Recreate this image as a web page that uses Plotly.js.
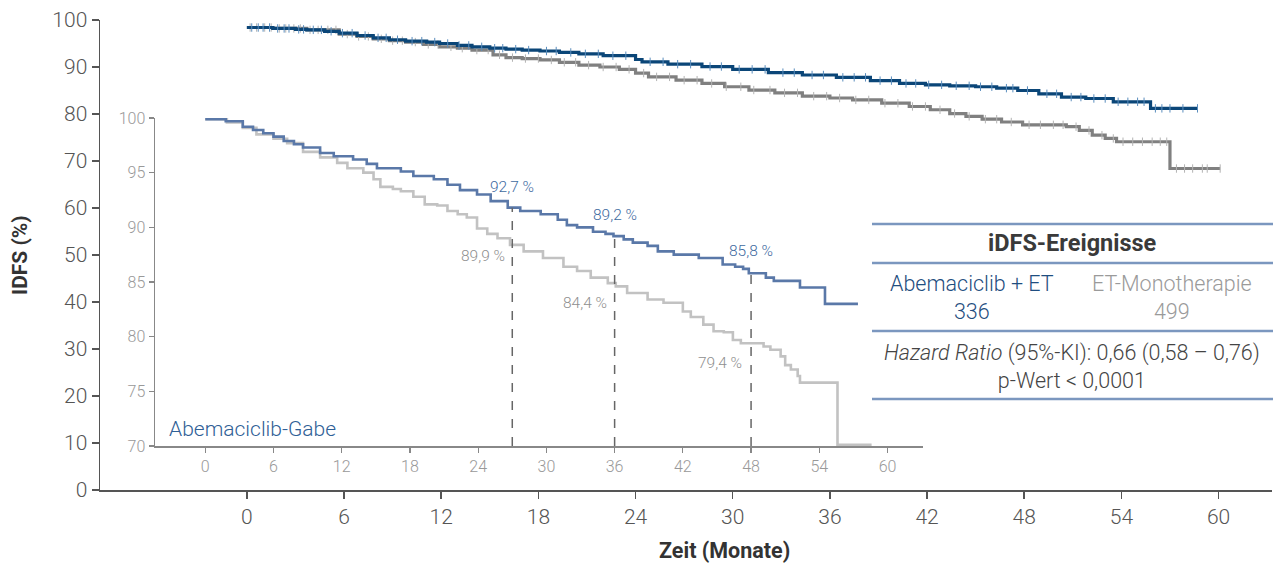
<!DOCTYPE html>
<html>
<head>
<meta charset="utf-8">
<script src="https://cdn.plot.ly/plotly-3.0.1.min.js"></script>
<style>html,body{margin:0;padding:0;background:#fff;}#chart{width:1274px;height:565px;}</style>
</head>
<body>
<div id="chart"></div>
<script>
// ---- Main chart data (months, IDFS %) ----
const mainAbeTime = [0, 1.6, 3.0, 3.7, 4.8, 5.7, 6.8, 7.8, 8.8, 9.8, 11.1, 11.9, 13.0, 13.9, 15.0, 16.0, 17.0, 18.1, 19.3, 20.5, 22.0, 24.0, 24.4, 26.0, 28.1, 30.0, 32.2, 34.3, 36.4, 38.5, 40.3, 41.9, 43.4, 45.0, 46.3, 47.6, 48.9, 50.3, 51.8, 53.5, 55.8, 58.7];
const mainAbeSurv = [98.4, 98.2, 98.0, 97.9, 97.6, 97.2, 96.7, 96.2, 95.8, 95.5, 95.3, 95.0, 94.6, 94.3, 94.0, 93.8, 93.6, 93.4, 93.1, 92.8, 92.4, 91.6, 91.1, 90.6, 90.1, 89.5, 88.8, 88.3, 87.8, 87.1, 86.5, 86.2, 86.0, 85.8, 85.5, 85.0, 84.3, 83.6, 83.3, 82.6, 81.2, 81.2];
const mainEtTime = [0, 1.6, 3.7, 5.7, 6.8, 7.8, 8.8, 9.8, 10.9, 11.9, 13.0, 13.9, 15.2, 16.0, 17.0, 18.1, 19.3, 20.5, 21.8, 23.0, 24.0, 24.8, 26.5, 28.1, 29.5, 31.0, 32.6, 34.3, 36.0, 37.4, 39.2, 40.9, 42.2, 43.4, 44.4, 45.4, 46.6, 47.9, 50.6, 51.4, 52.2, 53.0, 53.7, 57.0, 60.1];
const mainEtSurv = [98.4, 98.2, 97.9, 97.0, 96.5, 96.0, 95.6, 95.3, 94.8, 94.3, 94.0, 93.6, 92.6, 92.0, 91.8, 91.5, 91.0, 90.4, 90.0, 89.5, 88.7, 87.9, 87.2, 86.5, 85.8, 85.1, 84.5, 83.8, 83.4, 83.0, 82.3, 81.6, 80.9, 80.1, 79.5, 78.9, 78.3, 77.7, 77.3, 76.5, 75.5, 74.8, 74.1, 68.4, 68.4];
const mainAbeCensor = [0.3,0.7,1.0,1.4,1.9,2.3,2.6,3.2,3.5,4.1,4.6,5.2,5.9,6.5,7.3,8.1,8.6,9.3,10.2,10.8,11.6,12.4,13.1,13.7,14.5,15.3,15.8,16.6,17.4,18.5,19.1,20.0,20.9,21.7,22.6,23.4,24.9,25.7,26.6,27.4,28.6,29.3,30.4,31.2,32.0,33.1,33.8,34.9,35.6,36.8,37.5,38.2,39.1,39.8,40.7,41.3,42.1,42.9,43.8,44.6,45.3,46.0,46.9,47.3,48.2,49.4,50.0,50.9,51.5,52.3,53.0,53.8,54.4,55.0,55.4,56.1,56.5,57.0,57.8,58.7];
const mainEtCensor = [0.2,0.6,1.1,1.5,2.0,2.4,2.9,3.3,3.9,4.4,5.0,5.5,6.2,6.9,7.5,8.3,9.0,9.6,10.4,11.2,11.8,12.6,13.3,14.2,14.9,15.6,16.4,17.2,18.0,18.8,19.6,20.3,21.1,22.0,22.8,23.6,24.5,25.3,26.1,27.0,27.8,28.7,29.6,30.5,31.3,32.3,33.2,34.0,35.0,35.8,36.6,37.6,38.4,39.4,40.2,41.1,41.9,42.8,43.7,44.6,45.6,46.3,47.2,48.3,49.0,49.8,50.4,51.2,52.0,52.8,53.5,54.1,54.7,55.3,55.9,56.4,56.8,57.4,57.9,58.4,59.0,59.3,60.1];

// ---- Inset data (Abemaciclib-Gabe) ----
const insetAbeTime = [0, 1.8, 3.3, 4.2, 5.1, 6.0, 6.9, 7.8, 8.6, 10.1, 11.3, 13.0, 14.2, 15.1, 17.2, 18.3, 20.1, 21.3, 22.4, 23.9, 25.1, 26.6, 27.7, 29.5, 31.0, 31.8, 32.7, 34.1, 35.2, 35.9, 36.8, 37.6, 38.9, 39.8, 41.2, 43.4, 45.5, 46.6, 47.3, 47.8, 49.3, 50.0, 52.3, 54.5, 57.4];
const insetAbeSurv = [99.9, 99.7, 99.2, 98.9, 98.6, 98.3, 97.9, 97.6, 97.3, 96.8, 96.5, 96.2, 95.8, 95.4, 95.1, 94.7, 94.4, 93.9, 93.4, 93.0, 92.4, 91.8, 91.5, 91.2, 90.7, 90.2, 90.0, 89.6, 89.4, 89.2, 88.9, 88.6, 88.3, 87.8, 87.5, 87.2, 86.6, 86.4, 86.2, 85.8, 85.4, 85.1, 84.5, 83.0, 83.0];
const insetEtTime = [0, 1.9, 3.3, 4.5, 6.0, 7.2, 8.6, 10.1, 11.6, 12.5, 13.9, 14.8, 15.4, 16.5, 17.2, 18.3, 19.3, 20.4, 21.3, 22.2, 23.0, 23.9, 24.8, 25.7, 26.8, 28.0, 29.7, 31.5, 32.7, 33.9, 35.4, 36.1, 37.1, 38.9, 40.3, 42.0, 42.7, 43.8, 44.7, 45.6, 46.4, 47.1, 49.1, 49.7, 50.6, 51.0, 51.5, 52.1, 52.3, 55.6, 58.6];
const insetEtSurv = [99.9, 99.6, 99.1, 98.5, 98.1, 97.7, 96.9, 96.4, 95.9, 95.4, 95.0, 94.4, 93.7, 93.5, 93.3, 92.8, 92.1, 92.0, 91.5, 91.2, 90.9, 89.9, 89.4, 89.0, 88.4, 87.8, 87.2, 86.4, 86.0, 85.4, 84.9, 84.6, 84.0, 83.4, 83.1, 82.3, 81.8, 81.1, 80.5, 80.4, 79.7, 79.4, 79.1, 78.8, 78.2, 77.4, 77.0, 76.4, 75.8, 70.1, 70.1];

const landmarkMonths = [27, 36, 48];
const abeLandmarkLabels = ["92,7 %", "89,2 %", "85,8 %"];
const etLandmarkLabels = ["89,9 %", "84,4 %", "79,4 %"];
const abeLabelPos = [[27.0, 93.7], [36.0, 91.1], [48.0, 87.8]];
const etLabelPos = [[24.4, 87.4], [33.4, 83.1], [45.3, 77.6]];

const mainTicks = [0, 6, 12, 18, 24, 30, 36, 42, 48, 54, 60];
const mainYTicks = [0, 10, 20, 30, 40, 50, 60, 70, 80, 90, 100];
const insetYTicks = [70, 75, 80, 85, 90, 95, 100];

// step lookup
function stepAt(times, vals, t) {
  let v = vals[0];
  for (let i = 0; i < times.length; i++) { if (times[i] <= t) v = vals[i]; else break; }
  return v;
}

const FONT = "Roboto, 'Open Sans', sans-serif";
const BLUE_DARK = "#0b4678", BLUE_CENS = "#5a8dbd";
const GRAY_MAIN = "#808080", GRAY_CENS = "#b3b3b3";
const BLUE_INSET = "#5a78a8", GRAY_INSET = "#c2c2c2";

const traces = [
  {x: mainEtTime, y: mainEtSurv, type: "scatter", mode: "lines", line: {shape: "hv", color: GRAY_MAIN, width: 3.2}, xaxis: "x", yaxis: "y", hoverinfo: "skip"},
  {x: mainEtCensor, y: mainEtCensor.map(t => stepAt(mainEtTime, mainEtSurv, t)), type: "scatter", mode: "markers",
   marker: {symbol: "line-ns", size: 6, line: {width: 1, color: GRAY_CENS}}, xaxis: "x", yaxis: "y", hoverinfo: "skip"},
  {x: mainAbeTime, y: mainAbeSurv, type: "scatter", mode: "lines", line: {shape: "hv", color: BLUE_DARK, width: 3.2}, xaxis: "x", yaxis: "y", hoverinfo: "skip"},
  {x: mainAbeCensor, y: mainAbeCensor.map(t => stepAt(mainAbeTime, mainAbeSurv, t)), type: "scatter", mode: "markers",
   marker: {symbol: "line-ns", size: 6, line: {width: 1, color: BLUE_CENS}}, xaxis: "x", yaxis: "y", hoverinfo: "skip"},
  {x: insetEtTime, y: insetEtSurv, type: "scatter", mode: "lines", line: {shape: "hv", color: GRAY_INSET, width: 2.6}, xaxis: "x2", yaxis: "y2", cliponaxis: false, hoverinfo: "skip"},
  {x: insetAbeTime, y: insetAbeSurv, type: "scatter", mode: "lines", line: {shape: "hv", color: BLUE_INSET, width: 2.6}, xaxis: "x2", yaxis: "y2", cliponaxis: false, hoverinfo: "skip"}
];

// paper helpers (plot area: x 100..1272, y 20..490)
const px = v => (v - 100) / 1172;
const py = v => (490 - v) / 470;

const shapes = [];
landmarkMonths.forEach(m => {
  shapes.push({type: "line", xref: "x2", yref: "y2", x0: m, x1: m, y0: 70, y1: stepAt(insetAbeTime, insetAbeSurv, m),
    line: {color: "#666", width: 1.5, dash: "dash"}});
});
[224, 263, 331, 399].forEach(yy => {
  shapes.push({type: "line", xref: "paper", yref: "paper", x0: px(872), x1: px(1273), y0: py(yy), y1: py(yy),
    line: {color: "#7b97bf", width: 2.5}});
});

const C = {xanchor: "center", yanchor: "middle", showarrow: false};
const annotations = [];
abeLandmarkLabels.forEach((t, i) => annotations.push(Object.assign({xref: "x2", yref: "y2", x: abeLabelPos[i][0], y: abeLabelPos[i][1], text: t,
  font: {family: FONT, size: 15.5, color: "#3f6b9f", weight: 300}}, C)));
etLandmarkLabels.forEach((t, i) => annotations.push(Object.assign({xref: "x2", yref: "y2", x: etLabelPos[i][0], y: etLabelPos[i][1], text: t,
  font: {family: FONT, size: 15.5, color: "#8f8f8f", weight: 300}}, C)));
annotations.push({xref: "x2", yref: "y2", x: -3.4, y: 71.6, xanchor: "left", yanchor: "middle", text: "Abemaciclib-Gabe", showarrow: false,
  font: {family: FONT, size: 21, color: "#2f6096", weight: 300}});
annotations.push(Object.assign({xref: "paper", yref: "paper", x: px(1072), y: py(243), text: "<b>iDFS-Ereignisse</b>",
  font: {family: FONT, size: 23.5, color: "#3a3a3a"}}, C));
annotations.push(Object.assign({xref: "paper", yref: "paper", x: px(972), y: py(297), text: "Abemaciclib + ET<br>336",
  font: {family: FONT, size: 21.5, color: "#1f4e80", weight: 300}}, C));
annotations.push(Object.assign({xref: "paper", yref: "paper", x: px(1172), y: py(297), text: "ET-Monotherapie<br>499",
  font: {family: FONT, size: 21.5, color: "#9a9a9a", weight: 300}}, C));
annotations.push(Object.assign({xref: "paper", yref: "paper", x: px(1072), y: py(366), text: "<i>Hazard Ratio</i> (95%-KI): 0,66 (0,58 – 0,76)<br>p-Wert &lt; 0,0001",
  font: {family: FONT, size: 21.5, color: "#444", weight: 300}}, C));
annotations.push(Object.assign({xref: "paper", yref: "paper", x: px(20), y: 0.5, text: "<b>IDFS (%)</b>", textangle: -90,
  font: {family: FONT, size: 21, color: "#333"}}, C));
annotations.push(Object.assign({xref: "paper", yref: "paper", x: px(724), y: py(550), text: "<b>Zeit (Monate)</b>",
  font: {family: FONT, size: 21.5, color: "#333"}}, C));

const layout = {
  width: 1274, height: 565,
  margin: {l: 100, r: 2, t: 20, b: 75},
  paper_bgcolor: "#fff", plot_bgcolor: "rgba(0,0,0,0)",
  showlegend: false,
  font: {family: FONT},
  xaxis: {range: [-9.07, 63.3], tickvals: mainTicks, ticks: "outside", ticklen: 7, tickwidth: 1.5, tickcolor: "#555",
    showline: true, linecolor: "#555", linewidth: 1.5, showgrid: false, zeroline: false, fixedrange: true,
    tickfont: {family: FONT, size: 21, color: "#555", weight: 300}},
  yaxis: {range: [0, 100], tickvals: mainYTicks, ticks: "outside", ticklen: 7, tickwidth: 1.5, tickcolor: "#555",
    showline: true, linecolor: "#555", linewidth: 1.5, showgrid: false, zeroline: false, fixedrange: true,
    tickfont: {family: FONT, size: 21, color: "#555", weight: 300}},
  xaxis2: {domain: [px(155), px(923)], anchor: "y2", range: [-4.42, 63.12], tickvals: mainTicks, ticks: "outside", ticklen: 5, tickwidth: 1.2,
    tickcolor: "#888", showline: true, linecolor: "#888", linewidth: 1.5, showgrid: false, zeroline: false, fixedrange: true,
    tickfont: {family: FONT, size: 16, color: "#999", weight: 300}},
  yaxis2: {domain: [py(446), py(118)], anchor: "x2", range: [70, 100], tickvals: insetYTicks, ticks: "outside", ticklen: 5, tickwidth: 1.2,
    tickcolor: "#888", showline: true, linecolor: "#888", linewidth: 1.5, showgrid: false, zeroline: false, fixedrange: true,
    tickfont: {family: FONT, size: 16, color: "#999", weight: 300}},
  shapes: shapes,
  annotations: annotations
};

Plotly.newPlot("chart", traces, layout, {displayModeBar: false, staticPlot: true});
</script>
</body>
</html>
